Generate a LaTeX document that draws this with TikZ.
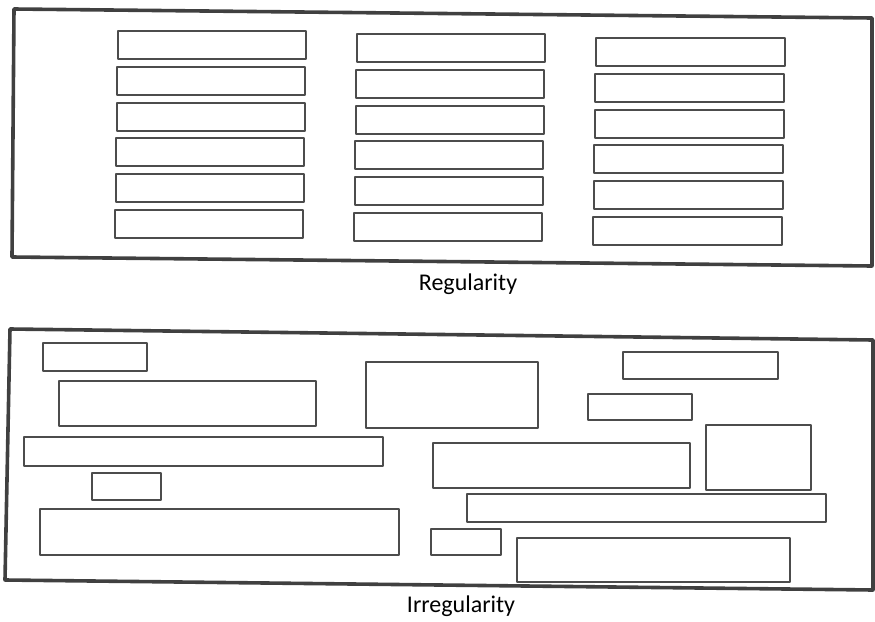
\documentclass[tikz,border=0pt]{standalone}
\usepackage{fontspec}
\setmainfont{Carlito}
\begin{document}
\begin{tikzpicture}[x=.5pt,y=-.5pt, line join=round, line cap=round, font=\fontsize{12}{14}\selectfont,
	frame/.style={draw=black!75, line width=1.8pt},
	box/.style={draw=black!70, line width=1pt}]
	\def\h{28} \def\dy{35.8} % height and step of the rows
	\useasboundingbox (0,0) rectangle (875,622);
	% Regularity
	\draw[frame] (14,9)--(872,18)--(872,266)--(12,257)--cycle;
	\foreach \xa/\xb/\ya in {118/306/31, 357/545/34, 596/785/38}
	\foreach \r in {0,...,5}
	\draw[box] (\xa-0.6*\r,\ya+\dy*\r) rectangle (\xb-0.6*\r,\ya+\dy*\r+\h);
	\node (reg) at (468,284) {Regularity};
	% Irregularity
	\draw[frame] (10,329)--(873,340)--(873,590)--(5,580)--cycle;
	\foreach \xa/\ya/\xb/\yb in {43/343/147/371, 59/381/316/426, 24/437/383/466, 92/473/161/500,
		40/509/399/555, 366/362/538/428, 623/352/778/379, 588/394/692/420, 433/443/690/488,
		706/425/811/490, 467/494/826/522, 431/529/501/555, 517/538/790/582}
	\draw[box] (\xa,\ya) rectangle (\xb,\yb);
	\node (irreg) at (461,606) {Irregularity};
\end{tikzpicture}
\end{document}
